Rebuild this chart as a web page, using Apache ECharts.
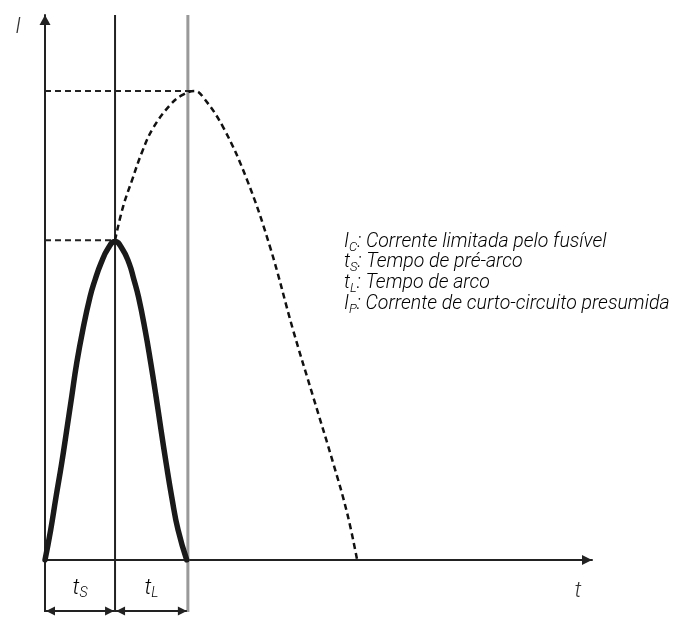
<!DOCTYPE html>
<html><head><meta charset="utf-8">
<script src="https://cdn.jsdelivr.net/npm/echarts@6/dist/echarts.min.js"></script>
<style>html,body{margin:0;padding:0;background:#fff}#c{width:676px;height:619px}</style>
</head><body><div id="c"></div>
<script>
// ---- data (t in units of pre-arc time, I in % of prospective peak) ----
const tMax = 7.81;
const iMax = 116.2;
const iP = 100;
const iC = 68.2;
const tS = 1.0;
const tL = 2.04;
const tPeak = 2.14;
const limitedCurrent = [[0,0],[0.081,6.4],[0.157,13.4],[0.239,20.7],[0.31,27.7],[0.381,34.8],[0.453,42.0],[0.539,49.0],[0.643,56.1],[0.714,59.7],[0.8,63.3],[0.9,66.4],[1.0,67.9],[1.1,66.4],[1.2,63.3],[1.271,59.7],[1.335,56.1],[1.43,49.0],[1.51,42.0],[1.586,34.8],[1.657,27.7],[1.729,20.7],[1.81,13.4],[1.9,6.4],[2.024,0]];
const prospectiveCurrent = [[1.0,68.2],[1.114,75.3],[1.243,81.0],[1.386,87.0],[1.543,92.1],[1.786,97.0],[1.957,99.1],[2.143,100],[2.257,98.7],[2.543,92.3],[2.886,81.0],[3.214,66.7],[3.543,49.0],[3.829,34.8],[4.114,20.7],[4.314,10.0],[4.457,0]];
const guideTimes = [0, tS, tL];
const spans = [[0, tS, 't', 'S'], [tS, tL, 't', 'L']];
const legendLines = [
  ['I', 'C', ': Corrente limitada pelo fusível'],
  ['t', 'S', ': Tempo de pré-arco'],
  ['t', 'L', ': Tempo de arco'],
  ['I', 'P', ': Corrente de curto-circuito presumida']
];

const FONT = 'Roboto';
const TXT = '#333';
function richSet(big, small, subPad) {
  return {
    m: {fontFamily: FONT, fontStyle: 'italic', fontWeight: 300, fontSize: big, color: TXT},
    s: {fontFamily: FONT, fontStyle: 'italic', fontWeight: 300, fontSize: small, color: TXT, padding: [subPad, 0, 0, 0]}
  };
}

const chart = echarts.init(document.getElementById('c'), null, {renderer: 'canvas'});
const EXT = 52;

const option = {
  animation: false,
  backgroundColor: '#fff',
  grid: {left: 45, right: 84, top: 15, bottom: 59},
  xAxis: {
    type: 'value', min: 0, max: tMax,
    name: 't', nameLocation: 'end', nameGap: -14,
    nameTextStyle: {fontFamily: FONT, fontStyle: 'italic', fontWeight: 300, fontSize: 22, color: TXT, align: 'center', verticalAlign: 'top', padding: [20, 0, 0, 0]},
    axisLine: {lineStyle: {color: '#222', width: 2}, symbol: ['none', 'triangle'], symbolSize: [10, 10], symbolOffset: [0, -5]},
    axisTick: {show: false}, axisLabel: {show: false}, splitLine: {show: false}
  },
  yAxis: {
    type: 'value', min: 0, max: iMax,
    name: 'I', nameLocation: 'end', nameGap: -12,
    nameTextStyle: {fontFamily: FONT, fontStyle: 'italic', fontWeight: 300, fontSize: 22, color: TXT, align: 'right', verticalAlign: 'middle', padding: [0, 24, 0, 0]},
    axisLine: {lineStyle: {color: '#222', width: 2}, symbol: ['none', 'triangle'], symbolSize: [11, 10], symbolOffset: [0, -5]},
    axisTick: {show: false}, axisLabel: {show: false}, splitLine: {show: false}
  },
  graphic: legendLines.map((l, k) => ({
    type: 'text', left: 344, top: 232 + k * 20.6, z: 10,
    style: {
      text: '{m|' + l[0] + '}{s|' + l[1] + '}{m|' + l[2] + '}',
      rich: richSet(19.5, 13, 11)
    }
  })),
  series: [
    {
      type: 'custom', name: 'guides', z: 1, clip: false, silent: true,
      data: guideTimes.map(t => [t]),
      encode: {x: 0},
      renderItem: function (params, api) {
        const t = api.value(0);
        const top = api.coord([t, iMax]);
        const bot = api.coord([t, 0]);
        const i = params.dataIndex;
        const y0 = i === 0 ? bot[1] : top[1];
        const style = i === 2 ? {stroke: '#999', lineWidth: 3} : {stroke: '#222', lineWidth: 2};
        return {type: 'line', shape: {x1: bot[0], y1: y0, x2: bot[0], y2: bot[1] + EXT}, style: style};
      }
    },
    {
      type: 'custom', name: 'spans', z: 2, clip: false, silent: true,
      data: spans,
      encode: {x: [0, 1]},
      renderItem: function (params, api) {
        const a = api.coord([api.value(0), 0]);
        const b = api.coord([api.value(1), 0]);
        const y = a[1] + 51;
        const x0 = a[0] + 1, x1 = b[0] - 1;
        const d = spans[params.dataIndex];
        return {type: 'group', children: [
          {type: 'line', shape: {x1: x0, y1: y, x2: x1, y2: y}, style: {stroke: '#222', lineWidth: 2}},
          {type: 'polygon', shape: {points: [[x0, y], [x0 + 9, y - 4.5], [x0 + 9, y + 4.5]]}, style: {fill: '#222'}},
          {type: 'polygon', shape: {points: [[x1, y], [x1 - 9, y - 4.5], [x1 - 9, y + 4.5]]}, style: {fill: '#222'}},
          {type: 'text', x: (a[0] + b[0]) / 2, y: y - 23, style: {
            text: '{m|' + d[2] + '}{s|' + d[3] + '}', align: 'center', verticalAlign: 'middle',
            rich: richSet(22, 14, 10)
          }}
        ]};
      }
    },
    {
      type: 'line', name: 'IP level', z: 3, silent: true, symbol: 'none',
      lineStyle: {color: '#222', width: 2, type: [6, 4]},
      data: [{value: [0, iP], label: {show: true, position: 'left', distance: 14, formatter: '{m|I}{s|P}', rich: richSet(22, 14, 10)}}, [tPeak, iP]]
    },
    {
      type: 'line', name: 'IC level', z: 3, silent: true, symbol: 'none',
      lineStyle: {color: '#222', width: 2, type: [6, 4]},
      data: [{value: [0, iC], label: {show: true, position: 'left', distance: 14, formatter: '{m|I}{s|C}', rich: richSet(22, 14, 10)}}, [tS, iC]]
    },
    {
      type: 'line', name: 'prospective', z: 4, silent: true, symbol: 'none', smooth: 0.4,
      lineStyle: {color: '#111', width: 2.5, type: [6, 4]},
      data: prospectiveCurrent
    },
    {
      type: 'line', name: 'limited', z: 5, silent: true, symbol: 'none', smooth: 0.5,
      lineStyle: {color: '#1a1a1a', width: 5.5, cap: 'round', join: 'round'},
      data: limitedCurrent
    }
  ]
};
chart.setOption(option);
</script></body></html>
